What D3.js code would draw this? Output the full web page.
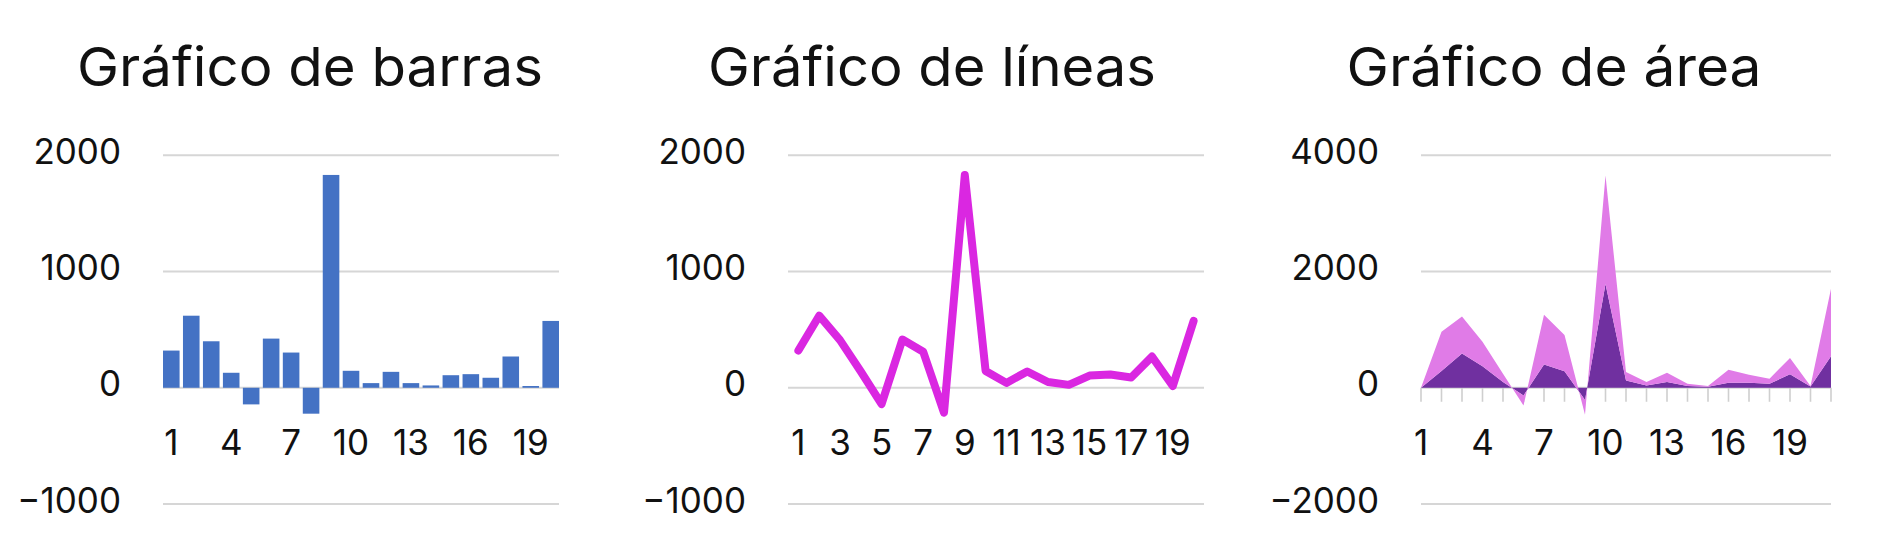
<!DOCTYPE html>
<html lang="es">
<head>
<meta charset="utf-8">
<script src="https://cdn.jsdelivr.net/npm/d3@7/dist/d3.min.js"></script>
<style>
    html, body { margin: 0; padding: 0; background: #fff; }
    text { font-family: Inter, "Noto Sans", sans-serif; fill: #111; }
</style>
</head>
<body>
<div id="graficos"></div>
<script>
"use strict";

// ---- datos ----
const titulos = ["Gráfico de barras", "Gráfico de líneas", "Gráfico de área"];

const barCats = ["1","2","3","4","5","6","7","8","9","10","11","12","13","14","15","16","17","18","19","20"];
const barValues = [320, 620, 400, 129, -143, 423, 303, -223, 1831, 146, 40, 137, 40, 20, 108, 117, 86, 269, 15, 575];
const barTicks = [-1000, 0, 1000, 2000];

const lineCats = ["1","2","3","4","5","6","7","8","9","10","11","12","13","14","15","16","17","18","19","20"];
const lineValues = [320, 620, 410, 140, -140, 415, 310, -215, 1830, 145, 42, 140, 50, 25, 105, 114, 88, 268, 15, 575];
const lineTicks = [-1000, 0, 1000, 2000];

const areaCats = ["1","2","3","4","5","6","7","8","9","10","11","12","13","14","15","16","17","18","19","20","21"];
const areaDark = [0, 290, 590, 370, 100, -133, 399, 283, -210, 1787, 127, 40, 98, 29, 17, 87, 87, 69, 231, 23, 543];
const areaLight = [0, 676, 636, 422, 143, -174, 856, 625, -255, 1867, 145, 58, 162, 40, 12, 225, 138, 87, 283, 6, 1162];
const areaTicks = [-2000, 0, 2000, 4000];

// ---- estilos ----
const width = 1880, height = 544;
const grid_color = "#d6d6d6",
    bar_color = "#4472c4",
    line_color = "#da27e1",
    dark_color = "#7030a0",
    light_color = "#e07be7";

const plotTop = 155.3, plotBottom = 504;

let svg = d3.select("#graficos")
    .append("svg")
    .attr("width", width)
    .attr("height", height);

// titulos
const tituloPos = [{x: 310, w: 466}, {x: 932, w: 448}, {x: 1554, w: 415}];
titulos.forEach((t, i) => {
    svg.append("text")
        .attr("x", tituloPos[i].x)
        .attr("y", 86)
        .attr("text-anchor", "middle")
        .attr("textLength", tituloPos[i].w)
        .attr("lengthAdjust", "spacingAndGlyphs")
        .style("font-size", "54px")
        .text(t);
});

/**
 * rejilla + etiquetas del eje y
 */
function drawGrid(g, y, ticks, x0, x1) {
    g.append("g").selectAll("line")
        .data(ticks)
        .enter()
        .append("line")
        .attr("x1", x0)
        .attr("x2", x1)
        .attr("y1", d => y(d))
        .attr("y2", d => y(d))
        .attr("stroke", grid_color)
        .attr("stroke-width", 2);

    g.append("g").selectAll("text")
        .data(ticks)
        .enter()
        .append("text")
        .attr("x", x0 - 42)
        .attr("y", d => y(d) - 1)
        .attr("text-anchor", "end")
        .attr("dominant-baseline", "middle")
        .style("font-size", "35px")
        .text(d => d < 0 ? "\u2212" + Math.abs(d) : d);
}

function drawXLabels(g, x, cats, step) {
    g.append("g").selectAll("text")
        .data(cats.filter((c, i) => i % step === 0))
        .enter()
        .append("text")
        .attr("x", d => x(d) + (x.bandwidth ? x.bandwidth() / 2 : 0))
        .attr("y", 445)
        .attr("text-anchor", "middle")
        .attr("dominant-baseline", "middle")
        .style("font-size", "35px")
        .text(d => d);
}

// ---- barras ----
(function () {
    const g = svg.append("g").attr("class", "barras");
    const x = d3.scaleBand().domain(barCats).range([163, 559]).paddingInner(0.17).paddingOuter(0);
    const y = d3.scaleLinear().domain([-1000, 2000]).range([plotBottom, plotTop]);

    drawGrid(g, y, barTicks, 163, 559);

    g.append("g").selectAll("rect")
        .data(barValues)
        .enter()
        .append("rect")
        .attr("x", (d, i) => x(barCats[i]))
        .attr("width", x.bandwidth())
        .attr("y", d => y(Math.max(0, d)))
        .attr("height", d => Math.abs(y(d) - y(0)))
        .attr("fill", bar_color);

    drawXLabels(g, x, barCats, 3);
})();

// ---- lineas ----
(function () {
    const g = svg.append("g").attr("class", "lineas");
    const x = d3.scalePoint().domain(lineCats).range([788, 1204]).padding(0.5);
    const y = d3.scaleLinear().domain([-1000, 2000]).range([plotBottom, plotTop]);

    drawGrid(g, y, lineTicks, 788, 1204);

    const line = d3.line()
        .x((d, i) => x(lineCats[i]))
        .y(d => y(d));

    g.append("path")
        .datum(lineValues)
        .attr("d", line)
        .attr("fill", "none")
        .attr("stroke", line_color)
        .attr("stroke-width", 8)
        .attr("stroke-linejoin", "round")
        .attr("stroke-linecap", "round");

    drawXLabels(g, x, lineCats, 2);
})();

// ---- area ----
(function () {
    const g = svg.append("g").attr("class", "area");
    const x = d3.scalePoint().domain(areaCats).range([1421, 1831]).padding(0);
    const y = d3.scaleLinear().domain([-2000, 4000]).range([plotBottom, plotTop]);

    drawGrid(g, y, areaTicks, 1421, 1831);

    // ticks del eje x
    g.append("g").selectAll("line")
        .data(areaCats)
        .enter()
        .append("line")
        .attr("x1", d => x(d))
        .attr("x2", d => x(d))
        .attr("y1", y(0))
        .attr("y2", y(0) + 14)
        .attr("stroke", "#cfcfcf")
        .attr("stroke-width", 1.6);

    const rows = areaCats.map((c, i) => ({cat: c, oscuro: areaDark[i], claro: areaLight[i]}));
    const series = d3.stack().keys(["oscuro", "claro"])(rows);
    const colores = [dark_color, light_color];

    const area = d3.area()
        .x(d => x(d.data.cat))
        .y0(d => y(d[0]))
        .y1(d => y(d[1]));

    g.append("g").selectAll("path")
        .data(series)
        .enter()
        .append("path")
        .attr("d", area)
        .attr("fill", (d, i) => colores[i]);

    drawXLabels(g, x, areaCats, 3);
})();
</script>
</body>
</html>
